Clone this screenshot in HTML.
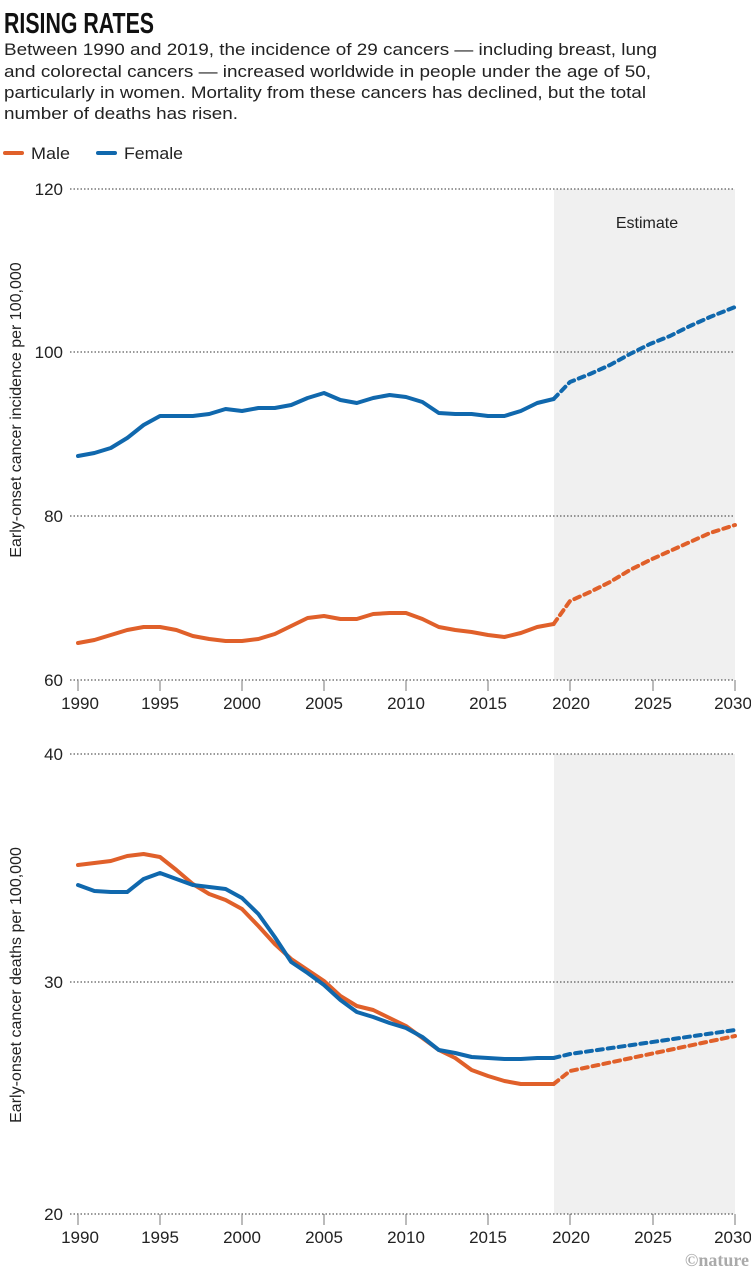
<!DOCTYPE html>
<html><head><meta charset="utf-8"><style>
html,body{margin:0;padding:0;background:#fff;}
svg{display:block;font-family:"Liberation Sans",sans-serif;}
</style></head><body>
<svg width="751" height="1276" viewBox="0 0 751 1276">
<text x="4" y="33" font-family="'Liberation Sans Narrow','Liberation Sans',sans-serif" font-weight="bold" font-size="29" fill="#111" textLength="150" lengthAdjust="spacingAndGlyphs">RISING RATES</text>
<g font-size="17" fill="#222">
<text x="4" y="55" textLength="653" lengthAdjust="spacingAndGlyphs">Between 1990 and 2019, the incidence of 29 cancers — including breast, lung</text>
<text x="4" y="77" textLength="647" lengthAdjust="spacingAndGlyphs">and colorectal cancers — increased worldwide in people under the age of 50,</text>
<text x="4" y="98" textLength="642" lengthAdjust="spacingAndGlyphs">particularly in women. Mortality from these cancers has declined, but the total</text>
<text x="4" y="119" textLength="234" lengthAdjust="spacingAndGlyphs">number of deaths has risen.</text>
</g>
<line x1="5" y1="153" x2="22" y2="153" stroke="#e0602a" stroke-width="4" stroke-linecap="round"/>
<text x="31" y="159" font-size="17" fill="#222" textLength="39" lengthAdjust="spacingAndGlyphs">Male</text>
<line x1="98" y1="153" x2="115" y2="153" stroke="#1068ad" stroke-width="4" stroke-linecap="round"/>
<text x="124" y="159" font-size="17" fill="#222" textLength="59" lengthAdjust="spacingAndGlyphs">Female</text>

<!-- top chart -->
<rect x="554" y="189" width="181" height="491" fill="#f0f0f0"/>
<text x="647" y="228" font-size="16" fill="#222" text-anchor="middle">Estimate</text>
<g stroke="#333" stroke-width="1" stroke-dasharray="1.5,2">
<line x1="70" y1="189" x2="735" y2="189"/><line x1="70" y1="352" x2="735" y2="352"/>
<line x1="70" y1="516" x2="735" y2="516"/><line x1="70" y1="680" x2="735" y2="680"/>
</g>
<g font-size="17" fill="#222" text-anchor="end">
<text x="63" y="195">120</text><text x="63" y="358">100</text><text x="63" y="522">80</text><text x="63" y="686">60</text>
</g>
<g stroke="#777" stroke-width="1">
<line x1="78" y1="680" x2="78" y2="691"/><line x1="160" y1="680" x2="160" y2="691"/><line x1="242" y1="680" x2="242" y2="691"/><line x1="324" y1="680" x2="324" y2="691"/><line x1="406" y1="680" x2="406" y2="691"/><line x1="488" y1="680" x2="488" y2="691"/><line x1="570" y1="680" x2="570" y2="691"/><line x1="653" y1="680" x2="653" y2="691"/><line x1="735" y1="680" x2="735" y2="691"/>
</g>
<g font-size="17" fill="#222" text-anchor="middle">
<text x="80" y="709">1990</text><text x="160" y="709">1995</text><text x="242" y="709">2000</text><text x="324" y="709">2005</text><text x="406" y="709">2010</text><text x="488" y="709">2015</text><text x="571" y="709">2020</text><text x="653" y="709">2025</text><text x="733" y="709">2030</text>
</g>
<text transform="translate(21,410) rotate(-90)" font-size="16" fill="#222" text-anchor="middle">Early-onset cancer incidence per 100,000</text>
<g fill="none" stroke-width="4" stroke-linejoin="round" stroke-linecap="round">
<polyline stroke="#1068ad" points="78,456 94.4,453 110.8,448 127.2,438 143.6,425 160,416 176.4,416 192.8,416 209.2,414 225.6,409 242,411 258.4,408 274.8,408 291.2,405 307.6,398 324,393 340.4,400 356.8,403 373.2,398 389.6,395 406,397 422.4,402 438.8,413 455.2,414 471.6,414 488,416 504.4,416 520.8,411 537.2,403 553.6,399"/>
<polyline stroke="#1068ad" stroke-dasharray="6,5" points="553.6,399 570,382 590,374 610,365 630,354 650,344 670,336 690,326 710,317 735,307"/>
<polyline stroke="#e0602a" points="78,643 94.4,640 110.8,635 127.2,630 143.6,627 160,627 176.4,630 192.8,636 209.2,639 225.6,641 242,641 258.4,639 274.8,634 291.2,626 307.6,618 324,616 340.4,619 356.8,619 373.2,614 389.6,613 406,613 422.4,619 438.8,627 455.2,630 471.6,632 488,635 504.4,637 520.8,633 537.2,627 553.6,624"/>
<polyline stroke="#e0602a" stroke-dasharray="6,5" points="553.6,624 570,601 590,592 610,582 630,570 650,560 670,551 690,542 710,533 735,525"/>
</g>

<!-- bottom chart -->
<rect x="554" y="754" width="181" height="460" fill="#f0f0f0"/>
<g stroke="#333" stroke-width="1" stroke-dasharray="1.5,2">
<line x1="70" y1="754" x2="735" y2="754"/><line x1="70" y1="982" x2="735" y2="982"/><line x1="70" y1="1214" x2="735" y2="1214"/>
</g>
<g font-size="17" fill="#222" text-anchor="end">
<text x="63" y="760">40</text><text x="63" y="988">30</text><text x="63" y="1220">20</text>
</g>
<g stroke="#777" stroke-width="1">
<line x1="78" y1="1214" x2="78" y2="1225"/><line x1="160" y1="1214" x2="160" y2="1225"/><line x1="242" y1="1214" x2="242" y2="1225"/><line x1="324" y1="1214" x2="324" y2="1225"/><line x1="406" y1="1214" x2="406" y2="1225"/><line x1="488" y1="1214" x2="488" y2="1225"/><line x1="570" y1="1214" x2="570" y2="1225"/><line x1="653" y1="1214" x2="653" y2="1225"/><line x1="735" y1="1214" x2="735" y2="1225"/>
</g>
<g font-size="17" fill="#222" text-anchor="middle">
<text x="80" y="1243">1990</text><text x="160" y="1243">1995</text><text x="242" y="1243">2000</text><text x="324" y="1243">2005</text><text x="406" y="1243">2010</text><text x="488" y="1243">2015</text><text x="571" y="1243">2020</text><text x="653" y="1243">2025</text><text x="733" y="1243">2030</text>
</g>
<text transform="translate(21,985) rotate(-90)" font-size="16" fill="#222" text-anchor="middle">Early-onset cancer deaths per 100,000</text>
<text x="749" y="1266" font-family="'Liberation Serif',serif" font-weight="bold" font-size="18" fill="#aaa" text-anchor="end">©nature</text>
<g fill="none" stroke-width="4" stroke-linejoin="round" stroke-linecap="round">
<polyline stroke="#e0602a" points="78,865 94.4,863 110.8,861 127.2,856 143.6,854 160,857 176.4,870 192.8,884 209.2,894 225.6,900 242,909 258.4,926 274.8,944 291.2,959 307.6,970 324,981 340.4,996 356.8,1006 373.2,1010 389.6,1018 406,1026 422.4,1038 438.8,1050 455.2,1058 471.6,1070 488,1076 504.4,1081 520.8,1084 537.2,1084 553.6,1084"/>
<polyline stroke="#e0602a" stroke-dasharray="6,5" points="553.6,1084 570,1071 735,1036"/>
<polyline stroke="#1068ad" points="78,885 94.4,891 110.8,892 127.2,892 143.6,879 160,873 176.4,879 192.8,885 209.2,887 225.6,889 242,898 258.4,914 274.8,937 291.2,962 307.6,973 324,985 340.4,1000 356.8,1012 373.2,1017 389.6,1023 406,1028 422.4,1037 438.8,1050 455.2,1053 471.6,1057 488,1058 504.4,1059 520.8,1059 537.2,1058 553.6,1058"/>
<polyline stroke="#1068ad" stroke-dasharray="6,5" points="553.6,1058 570,1054 735,1030"/>
</g>
</svg>
</body></html>
